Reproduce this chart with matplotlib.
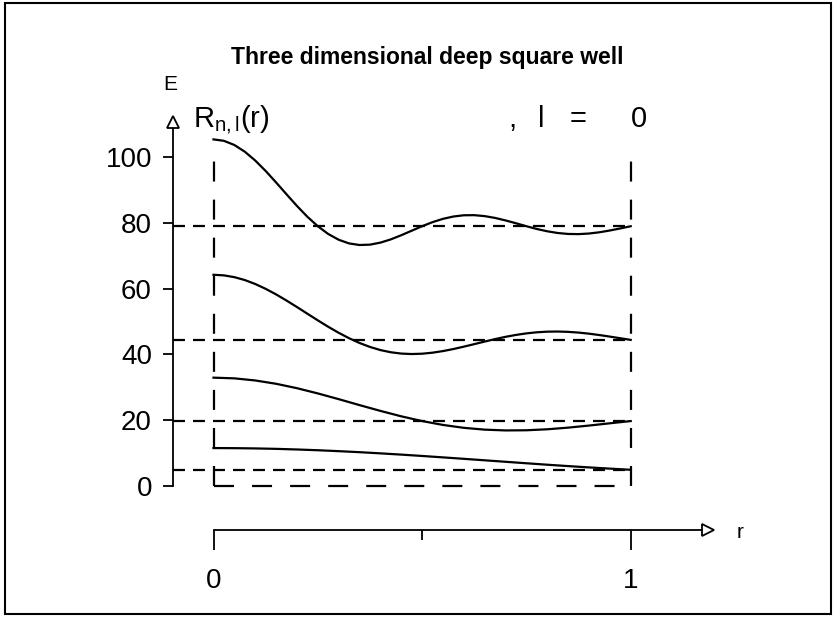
import matplotlib
matplotlib.use('Agg')
import matplotlib.pyplot as plt
from matplotlib import font_manager
from matplotlib.patches import Rectangle
from matplotlib.ticker import FixedLocator

# ---------------- data ----------------
r = [0.00, 0.05, 0.10, 0.15, 0.20, 0.25, 0.30, 0.35, 0.40, 0.45, 0.50,
     0.55, 0.60, 0.65, 0.70, 0.75, 0.80, 0.85, 0.90, 0.95, 1.00]
r_fine = [0.000, 0.025, 0.050, 0.075, 0.100, 0.125, 0.150, 0.175, 0.200, 0.225,
          0.250, 0.275, 0.300, 0.325, 0.350, 0.375, 0.400, 0.425, 0.450, 0.475,
          0.500, 0.525, 0.550, 0.575, 0.600, 0.625, 0.650, 0.675, 0.700, 0.725,
          0.750, 0.775, 0.800, 0.825, 0.850, 0.875, 0.900, 0.925, 0.950, 0.975, 1.000]
energies = [4.93, 19.74, 44.41, 78.96]
psi1 = [11.53, 11.50, 11.42, 11.29, 11.10, 10.87, 10.59, 10.28, 9.92, 9.54, 9.13,
        8.70, 8.26, 7.81, 7.36, 6.91, 6.47, 6.05, 5.65, 5.28, 4.93]
psi2 = [32.93, 32.72, 32.08, 31.07, 29.73, 28.14, 26.40, 24.59, 22.83, 21.18, 19.74,
        18.56, 17.68, 17.13, 16.89, 16.94, 17.24, 17.74, 18.37, 19.06, 19.74]
psi3 = [64.20, 64.02, 63.48, 62.60, 61.40, 59.93, 58.24, 56.37, 54.40, 52.37,
        50.35, 48.40, 46.57, 44.92, 43.47, 42.27, 41.32, 40.65, 40.25, 40.11,
        40.21, 40.52, 41.01, 41.63, 42.35, 43.12, 43.90, 44.65, 45.34, 45.92,
        46.39, 46.72, 46.91, 46.95, 46.85, 46.63, 46.30, 45.88, 45.41, 44.91, 44.41]
psi4 = [105.35, 104.92, 103.65, 101.61, 98.93, 95.76, 92.27, 88.67, 85.13, 81.84,
        78.96, 76.60, 74.85, 73.73, 73.25, 73.36, 73.97, 74.96, 76.22, 77.59,
        78.96, 80.20, 81.20, 81.91, 82.29, 82.32, 82.03, 81.48, 80.72, 79.86,
        78.96, 78.12, 77.42, 76.90, 76.61, 76.56, 76.74, 77.12, 77.66, 78.29, 78.96]
y_ticks = [0, 20, 40, 60, 80, 100]
y_ticklabels = ['0', '20', '40', '60', '80', '100']
x_ticks = [0, 1]
x_ticklabels = ['0', '1']
x_minor = [0.5]
box_top = 99.6
title = 'Three dimensional deep square well'


def pick(names):
    for n in names:
        try:
            font_manager.findfont(font_manager.FontProperties(family=n), fallback_to_default=False)
            return n
        except Exception:
            pass
    return 'DejaVu Sans'


NARROW = pick(['Liberation Sans Narrow', 'DejaVu Sans Condensed', 'Liberation Sans'])
BOLDF = pick(['Liberation Sans', 'DejaVu Sans'])

plt.rcParams['font.family'] = [NARROW, 'DejaVu Sans']
plt.rcParams['mathtext.fontset'] = 'custom'
plt.rcParams['mathtext.rm'] = NARROW
plt.rcParams['mathtext.it'] = NARROW
plt.rcParams['lines.scale_dashes'] = False

W, H = 836, 619
fig = plt.figure(figsize=(W / 100, H / 100), dpi=100)


def fx(px):
    return px / W


def fy(py):
    return 1 - py / H


# pixel calibration of the data scales
X0, X1 = 213.5, 630.7
Y0, Y100 = 486.0, 157.0
sx = X1 - X0
sy = (Y0 - Y100) / 100.0

AX_L, AX_R, AX_T = 173, 700, 128
xlim = ((AX_L - X0) / sx, (AX_R - X0) / sx)

LW = 1.6
DASH_E = (0, (8.6, 5.8))
DASH_BOX = (0, (14.4, 13.0))
LABEL_FS = 20

# ---------------- main axes ----------------
ax = fig.add_axes([fx(AX_L), fy(Y0), (AX_R - AX_L) / W, (Y0 - AX_T) / H])
ax.set_xlim(*xlim)
ax.set_ylim(0, (Y0 - AX_T) / sy)
ax.patch.set_alpha(0)
for s in ['top', 'right', 'bottom']:
    ax.spines[s].set_visible(False)
ax.spines['left'].set_linewidth(1.3)
ax.set_xticks([])
ax.set_yticks(y_ticks)
ax.set_yticklabels(y_ticklabels)
ax.tick_params(axis='y', direction='out', length=7.2, width=1.3, pad=8, labelsize=LABEL_FS)

# y-axis arrow head
ax.plot([xlim[0]], [(Y0 - 121.5) / sy], marker='^', ms=9, mfc='white', mec='black',
        mew=1.3, clip_on=False, zorder=5)

# energy levels
for E in energies:
    ax.plot([xlim[0], 1], [E, E], color='black', lw=LW, ls=DASH_E, clip_on=False)

# well walls and floor (each dashed from the corners)
ax.plot([0, 1], [0, 0], color='black', lw=LW, ls=DASH_BOX, clip_on=False)
ax.plot([0, 0], [0, box_top], color='black', lw=LW, ls=DASH_BOX, clip_on=False)
ax.plot([1, 1], [0, box_top], color='black', lw=LW, ls=DASH_BOX, clip_on=False)

# wavefunctions
ax.plot(r, psi1, color='black', lw=LW, clip_on=False)
ax.plot(r, psi2, color='black', lw=LW, clip_on=False)
ax.plot(r_fine, psi3, color='black', lw=LW, clip_on=False)
ax.plot(r_fine, psi4, color='black', lw=LW, clip_on=False)

# ---------------- r axis ----------------
XA_Y = 530
ax2 = fig.add_axes([fx(AX_L), fy(XA_Y), (AX_R - AX_L) / W, 0.02])
ax2.set_xlim(*xlim)
ax2.set_ylim(0, 1)
ax2.patch.set_alpha(0)
for s in ['top', 'right', 'left']:
    ax2.spines[s].set_visible(False)
ax2.spines['bottom'].set_bounds(0, (702 - X0) / sx)
ax2.spines['bottom'].set_linewidth(1.3)
ax2.set_yticks([])
ax2.set_xticks(x_ticks)
ax2.set_xticklabels(x_ticklabels)
ax2.xaxis.set_minor_locator(FixedLocator(x_minor))
ax2.tick_params(axis='x', which='major', direction='out', length=14.4, width=1.3,
                pad=13, labelsize=LABEL_FS)
ax2.tick_params(axis='x', which='minor', direction='out', length=7.2, width=1.3)
ax2.plot([(707.5 - X0) / sx], [0], marker='>', ms=9, mfc='white', mec='black',
         mew=1.3, clip_on=False, zorder=5)

# ---------------- texts ----------------
fig.text(fx(740), fy(533), 'r', ha='center', va='center', fontsize=15)
fig.text(fx(427.5), fy(64), title, ha='center', va='baseline', fontsize=16.5,
         fontweight='bold', family=[BOLDF, 'DejaVu Sans'])
fig.text(fx(170), fy(90), 'E', ha='center', va='baseline', fontsize=15)
fig.text(fx(193), fy(127), r'R$_{\mathrm{n,l}}$(r)', ha='left', va='baseline', fontsize=21)
fig.text(fx(512), fy(127), ',', ha='center', va='baseline', fontsize=21)
fig.text(fx(541), fy(127), 'l', ha='center', va='baseline', fontsize=21)
fig.text(fx(578), fy(127), '=', ha='center', va='baseline', fontsize=21)
fig.text(fx(639), fy(127), '0', ha='center', va='baseline', fontsize=21)

# outer frame
fig.add_artist(Rectangle((fx(5), fy(614)), (831 - 5) / W, (614 - 3) / H,
                         transform=fig.transFigure, fill=False, lw=1.5, ec='black'))

fig.savefig('out.png', dpi=100)
